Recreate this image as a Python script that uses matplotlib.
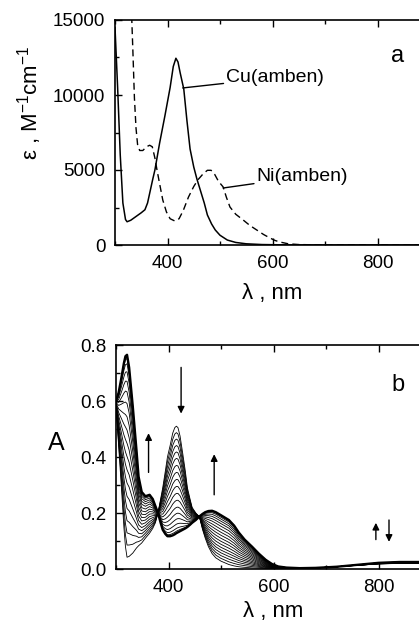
import numpy as np
import matplotlib
matplotlib.use("Agg")
import matplotlib.pyplot as plt
from matplotlib.ticker import MultipleLocator

plt.rcParams['font.family'] = ['Liberation Sans', 'DejaVu Sans']
plt.rcParams['mathtext.fontset'] = 'custom'
plt.rcParams['mathtext.rm'] = 'Liberation Sans'
plt.rcParams['mathtext.it'] = 'Liberation Sans'

# panel a: molar absorptivity spectra
cu_wl = [300, 305, 310, 315, 320, 323, 330, 340, 350, 357, 362, 367, 372, 376, 385,
         395, 405, 411, 416, 420, 424, 431, 437, 443, 450, 456, 463, 470, 476, 484,
         491, 500, 514, 530, 550, 580, 620, 700, 900]
cu_eps = [14500, 10500, 6000, 2800, 1700, 1550, 1650, 1900, 2150, 2350, 2800, 3600, 4400, 5000, 6800,
          8600, 10500, 11900, 12450, 12200, 11500, 10400, 8300, 6400, 5200, 4400, 3600, 2800, 2000, 1400,
          1000, 650, 330, 170, 80, 30, 10, 0, 0]

ni_wl = [331, 334, 337, 340, 343, 347, 353, 360, 366, 371, 376, 380, 386, 391, 398,
         405, 414, 422, 430, 440, 450, 458, 468, 476, 483, 490, 497, 506, 512, 519,
         530, 544, 557, 570, 583, 595, 605, 614, 630, 650, 700, 900]
ni_eps = [16000, 13000, 9800, 7800, 6700, 6300, 6300, 6550, 6650, 6550, 5800, 5000, 3900, 3000, 2200,
          1750, 1600, 1750, 2300, 3200, 3900, 4350, 4750, 4980, 4980, 4700, 4250, 3870, 3200, 2530,
          2050, 1670, 1300, 1000, 700, 470, 300, 200, 80, 30, 0, 0]

# panel b: absorbance during the titration (first and last trace)
b_wl = [300, 305, 310, 315, 318, 321, 325, 332, 339, 343, 349, 356, 364, 370, 375,
        380, 385, 389, 394, 398, 403, 408, 412, 415, 418, 422, 427, 432, 436, 441,
        445, 452, 459, 465, 470, 476, 483, 490, 500, 515, 525, 534, 545, 559, 572,
        585, 597, 609, 625, 650, 680, 720, 760, 800, 840, 880, 900]
a_first = [0.58, 0.44, 0.30, 0.15, 0.08, 0.042, 0.045, 0.057, 0.075, 0.083, 0.093, 0.11, 0.128, 0.145, 0.165,
           0.20, 0.25, 0.29, 0.35, 0.40, 0.44, 0.485, 0.505, 0.51, 0.505, 0.475, 0.414, 0.35, 0.29, 0.25,
           0.22, 0.20, 0.186, 0.14, 0.11, 0.08, 0.055, 0.04, 0.028, 0.016, 0.011, 0.008, 0.006, 0.004, 0.003,
           0.002, 0.002, 0.002, 0.002, 0.002, 0.004, 0.008, 0.013, 0.018, 0.020, 0.020, 0.020]
a_last = [0.60, 0.63, 0.68, 0.735, 0.76, 0.765, 0.72, 0.58, 0.425, 0.33, 0.275, 0.26, 0.265, 0.25, 0.225,
          0.20, 0.165, 0.14, 0.125, 0.117, 0.117, 0.12, 0.124, 0.128, 0.131, 0.135, 0.14, 0.145, 0.15, 0.158,
          0.165, 0.175, 0.188, 0.197, 0.203, 0.207, 0.208, 0.203, 0.192, 0.175, 0.155, 0.13, 0.105, 0.08, 0.055,
          0.033, 0.018, 0.009, 0.005, 0.003, 0.004, 0.008, 0.015, 0.022, 0.025, 0.025, 0.025]
# height of the 415 nm band for each trace
peak415 = [0.51, 0.487, 0.464, 0.441, 0.418, 0.395, 0.37, 0.345, 0.32, 0.295,
           0.27, 0.245, 0.22, 0.198, 0.178, 0.16, 0.145, 0.135, 0.128]

fig = plt.figure(figsize=(4.19, 6.35), dpi=100)
W = 315 / 419

def style(ax):
    ax.tick_params(which='both', direction='in', top=True, right=True, labelsize=13.5, pad=7)
    ax.tick_params(which='major', length=5, width=1)
    ax.tick_params(which='minor', length=3, width=1)
    for s in ax.spines.values():
        s.set_linewidth(1.2)
    ax.xaxis.set_major_locator(MultipleLocator(200))
    ax.xaxis.set_minor_locator(MultipleLocator(100))
    ax.set_xlim(300, 900)

# ---- panel a
ax1 = fig.add_axes([115 / 419, 1 - 245 / 635, W, 225 / 635])
style(ax1)
ax1.plot(cu_wl, cu_eps, color='black', lw=1.1)
ax1.plot(ni_wl, ni_eps, color='black', lw=1.0, ls=(0, (5, 3)))
ax1.set_ylim(0, 15000)
ax1.yaxis.set_major_locator(MultipleLocator(5000))
ax1.yaxis.set_minor_locator(MultipleLocator(2500))
ax1.set_xlabel('λ , nm', fontsize=16, labelpad=8)
ax1.set_ylabel(r'ε , M$^{\mathregular{-1}}$cm$^{\mathregular{-1}}$', fontsize=16)
ax1.yaxis.set_label_coords(-0.225, 0.63)
ax1.text(0.898, 0.84, 'a', transform=ax1.transAxes, fontsize=17, ha='center', va='center')
ax1.annotate('Cu(amben)', xy=(429, 10470), xytext=(512, 11150), fontsize=14,
             ha='left', va='center',
             arrowprops=dict(arrowstyle='-', color='black', lw=1, shrinkA=0, shrinkB=0))
ax1.annotate('Ni(amben)', xy=(506, 3800), xytext=(570, 4550), fontsize=14,
             ha='left', va='center',
             arrowprops=dict(arrowstyle='-', color='black', lw=1, shrinkA=0, shrinkB=0))

# ---- panel b
ax2 = fig.add_axes([116 / 419, 1 - 569 / 635, W, 224 / 635])
style(ax2)
first = np.array(a_first)
last = np.array(a_last)
i415 = b_wl.index(415)
for p in peak415:
    f = (first[i415] - p) / (first[i415] - last[i415])
    ax2.plot(b_wl, first + f * (last - first), color='black', lw=0.6)
ax2.plot(b_wl, last, color='black', lw=1.7)
ax2.set_ylim(0, 0.8)
ax2.yaxis.set_major_locator(MultipleLocator(0.2))
ax2.yaxis.set_minor_locator(MultipleLocator(0.1))
ax2.yaxis.set_major_formatter(matplotlib.ticker.FormatStrFormatter('%.1f'))
ax2.set_xlabel('λ , nm', fontsize=16, labelpad=4)
ax2.set_ylabel('A', fontsize=18, rotation=0, va='center')
ax2.yaxis.set_label_coords(-0.19, 0.5625)
ax2.text(0.895, 0.82, 'b', transform=ax2.transAxes, fontsize=17, ha='center', va='center')

arrows = [(424, 0.72, 0.555), (362, 0.345, 0.485), (487, 0.265, 0.41),
          (795, 0.105, 0.165), (820, 0.175, 0.097)]
for x, y0, y1 in arrows:
    ax2.annotate('', xy=(x, y1), xytext=(x, y0),
                 arrowprops=dict(arrowstyle='-|>', color='black', lw=1,
                                 mutation_scale=10, shrinkA=0, shrinkB=0))

fig.savefig('out.png', dpi=100)
